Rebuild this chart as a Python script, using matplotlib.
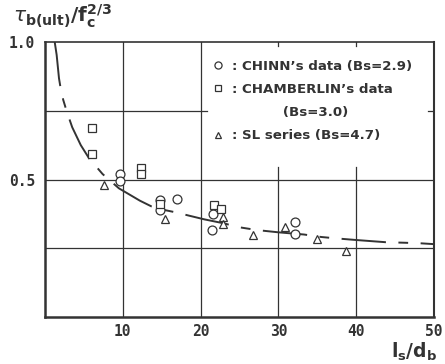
import matplotlib
matplotlib.use("Agg")
import matplotlib.pyplot as plt
from matplotlib.lines import Line2D

plt.rcParams['lines.scale_dashes'] = False
plt.rcParams['mathtext.fontset'] = 'dejavusans'

INK = '#333333'

# ---- data ----
chinn_x = [9.6, 9.7, 14.8, 14.8, 17.0, 21.6, 21.5, 32.1, 32.2]
chinn_y = [0.520, 0.494, 0.425, 0.390, 0.428, 0.375, 0.316, 0.344, 0.302]

chamb_x = [6.1, 6.1, 12.3, 12.3, 14.8, 21.7, 22.6]
chamb_y = [0.686, 0.592, 0.541, 0.520, 0.410, 0.407, 0.392]

sl_x = [7.6, 15.4, 22.9, 22.9, 26.8, 30.8, 35.0, 38.7]
sl_y = [0.480, 0.355, 0.362, 0.340, 0.300, 0.328, 0.284, 0.241]

curve_x = [1.25, 1.5, 1.8, 2.05, 2.35, 2.8, 3.5, 4.6, 5.8, 6.4, 7.4, 9.5,
           12.2, 13.7, 14.7, 16.9, 18.6, 20.5, 23.1, 24.6, 27.3, 30.0, 33.3,
           35.5, 37.4, 40.0, 43.8, 46.3, 48.3, 50.0]
curve_y = [1.0, 0.953, 0.868, 0.825, 0.789, 0.747, 0.69, 0.625, 0.571, 0.553,
           0.520, 0.468, 0.423, 0.402, 0.393, 0.380, 0.368, 0.355, 0.340,
           0.328, 0.316, 0.308, 0.300, 0.291, 0.286, 0.280, 0.272, 0.270,
           0.268, 0.265]

x_ticks = [10, 20, 30, 40, 50]
y_ticks = [0.5, 1.0]
y_tick_labels = ['0.5', '1.0']

labels = [': CHINN\u2019s data (Bs=2.9)',
          ': CHAMBERLIN\u2019s data',
          '           (Bs=3.0)',
          ': SL series (Bs=4.7)']

# ---- figure ----
fig = plt.figure(figsize=(4.45, 3.64), dpi=100)
fig.patch.set_facecolor('white')
ax = fig.add_axes([0.1011, 0.1291, 0.874, 0.7555])
ax.set_xlim(0, 50)
ax.set_ylim(0, 1.0)

# grid lines (partial, as in the original drawing)
glw = 0.9
for xv in (10, 20):
    ax.axvline(xv, color=INK, lw=glw, zorder=1)
for xv in (30, 40):
    ax.axvline(xv, ymin=0, ymax=0.545, color=INK, lw=glw, zorder=1)
    ax.axvline(xv, ymin=0.985, ymax=1.0, color=INK, lw=glw, zorder=1)
ax.axhline(0.75, xmin=0, xmax=0.416, color=INK, lw=glw, zorder=1)
ax.axhline(0.75, xmin=0.985, xmax=1.0, color=INK, lw=glw, zorder=1)
for yv in (0.25, 0.5):
    ax.axhline(yv, color=INK, lw=glw, zorder=1)

# fitted curve
ax.plot(curve_x, curve_y, color=INK, lw=1.4,
        linestyle=(0, (32, 9, 7, 9)), dash_capstyle='butt', zorder=2)

# data series
h1, = ax.plot(chinn_x, chinn_y, linestyle='none', marker='o', ms=6.4,
              mfc='white', mec=INK, mew=0.9, zorder=3)
h2, = ax.plot(chamb_x, chamb_y, linestyle='none', marker='s', ms=5.2,
              mfc='white', mec=INK, mew=0.9, zorder=3)
h3, = ax.plot(sl_x, sl_y, linestyle='none', marker='^', ms=5.4,
              mfc='white', mec=INK, mew=0.9, zorder=3)
blank = Line2D([], [], linestyle='none', marker='none')

leg = ax.legend([h1, h2, blank, h3], labels, loc='upper left',
                bbox_to_anchor=(0.432, 0.935), frameon=False,
                borderpad=0, borderaxespad=0, handlelength=0.8,
                handletextpad=0.65, labelspacing=0.76, markerscale=0.8,
                prop={'family': 'DejaVu Sans', 'weight': 'bold', 'size': 9.6})
for t in leg.get_texts():
    t.set_color(INK)

# spines
for s in ax.spines.values():
    s.set_color(INK)
ax.spines['left'].set_linewidth(1.8)
ax.spines['bottom'].set_linewidth(1.8)
ax.spines['right'].set_linewidth(1.5)
ax.spines['top'].set_linewidth(1.2)

# ticks
ax.set_xticks(x_ticks)
ax.set_xticklabels([str(v) for v in x_ticks])
ax.set_yticks(y_ticks)
ax.set_yticklabels(y_tick_labels)
ax.tick_params(axis='x', length=0, pad=5, colors=INK)
ax.tick_params(axis='y', length=0, pad=7, colors=INK)
for lab in ax.get_xticklabels() + ax.get_yticklabels():
    lab.set_fontfamily('DejaVu Sans Mono')
    lab.set_fontweight('bold')
    lab.set_fontsize(10.5)

# axis titles
fig.text(13 / 445, 1 - 16 / 364,
         r'$\tau_{\mathbf{b(ult)}}\mathbf{/f}_{\mathbf{c}}^{\mathbf{2/3}}$',
         fontsize=14.5, color=INK, ha='left', va='center')
fig.text(437 / 445, 1 / 364,
         r'$\mathbf{l}_{\mathbf{s}}\mathbf{/d}_{\mathbf{b}}$',
         fontsize=13.5, color=INK, ha='right', va='bottom')

fig.savefig('out.png', dpi=100, facecolor='white')
